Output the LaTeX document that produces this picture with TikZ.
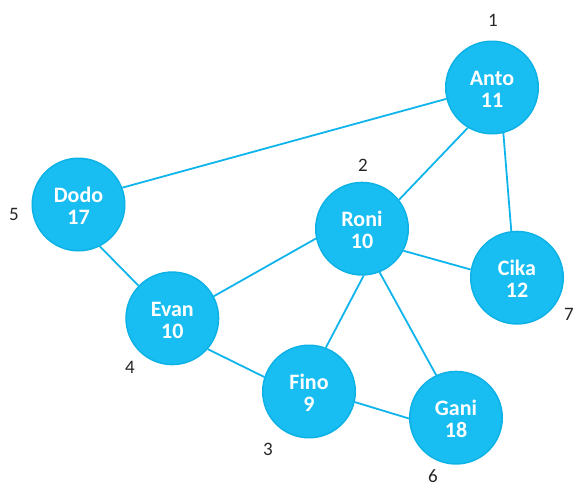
\documentclass[tikz,border=0pt]{standalone}
\usepackage{fontspec}
\setmainfont{Carlito}
\definecolor{nodefill}{RGB}{24,190,242}
\definecolor{nodeline}{RGB}{12,178,230}
\definecolor{edgecol}{RGB}{14,180,235}
\newcommand{\pnm}[2]{\raisebox{-4.5pt}[\height][\depth]{\begin{tabular}{@{}c@{}}#1\\#2\end{tabular}}}
\begin{document}
\begin{tikzpicture}[x=1pt,y=-1pt,
  person/.style={circle,draw=nodeline,fill=nodefill,line width=1.5pt,minimum size=92.5pt,inner sep=0pt,
    text=white,font=\fontsize{22}{22.5}\selectfont\bfseries},
  idlabel/.style={font=\fontsize{19}{20}\selectfont,text=black!85,inner sep=0pt},
  link/.style={draw=edgecol,line width=1.8pt}]
\useasboundingbox (0,0) rectangle (574,483);
\node[person] (anto) at (492,87.5) {\pnm{Anto}{11}};
\node[person] (dodo) at (78.5,204.5) {\pnm{Dodo}{17}};
\node[person] (roni) at (362,228.7) {\pnm{Roni}{10}};
\node[person] (cika) at (517,277.7) {\pnm{Cika}{12}};
\node[person] (evan) at (172.3,318.3) {\pnm{Evan}{10}};
\node[person] (fino) at (309,391.5) {\pnm{Fino}{9}};
\node[person] (gani) at (456,417.7) {\pnm{Gani}{18}};
\node[idlabel] (l1) at (493,20) {1};
\node[idlabel] (l2) at (363,165) {2};
\node[idlabel] (l5) at (14,214) {5};
\node[idlabel] (l7) at (569,314) {7};
\node[idlabel] (l4) at (130,367) {4};
\node[idlabel] (l3) at (268,449) {3};
\node[idlabel] (l6) at (433,476) {6};
\draw[link] (anto.194.6) -- (dodo.21.5);
\draw[link] (anto.239) -- (roni.38.8);
\draw[link] (anto.-76.8) -- (cika.97.3);
\draw[link] (roni.-28.5) -- (cika.170.5);
\draw[link] (roni.-88.8) -- (fino.69);
\draw[link] (roni.-68) -- (gani.115);
\draw[link] (roni.192.6) -- (evan.28);
\draw[link] (dodo.-63) -- (evan.136.7);
\draw[link] (evan.-41.6) -- (fino.162);
\draw[link] (fino.-13.5) -- (gani.181.6);
\end{tikzpicture}
\end{document}
